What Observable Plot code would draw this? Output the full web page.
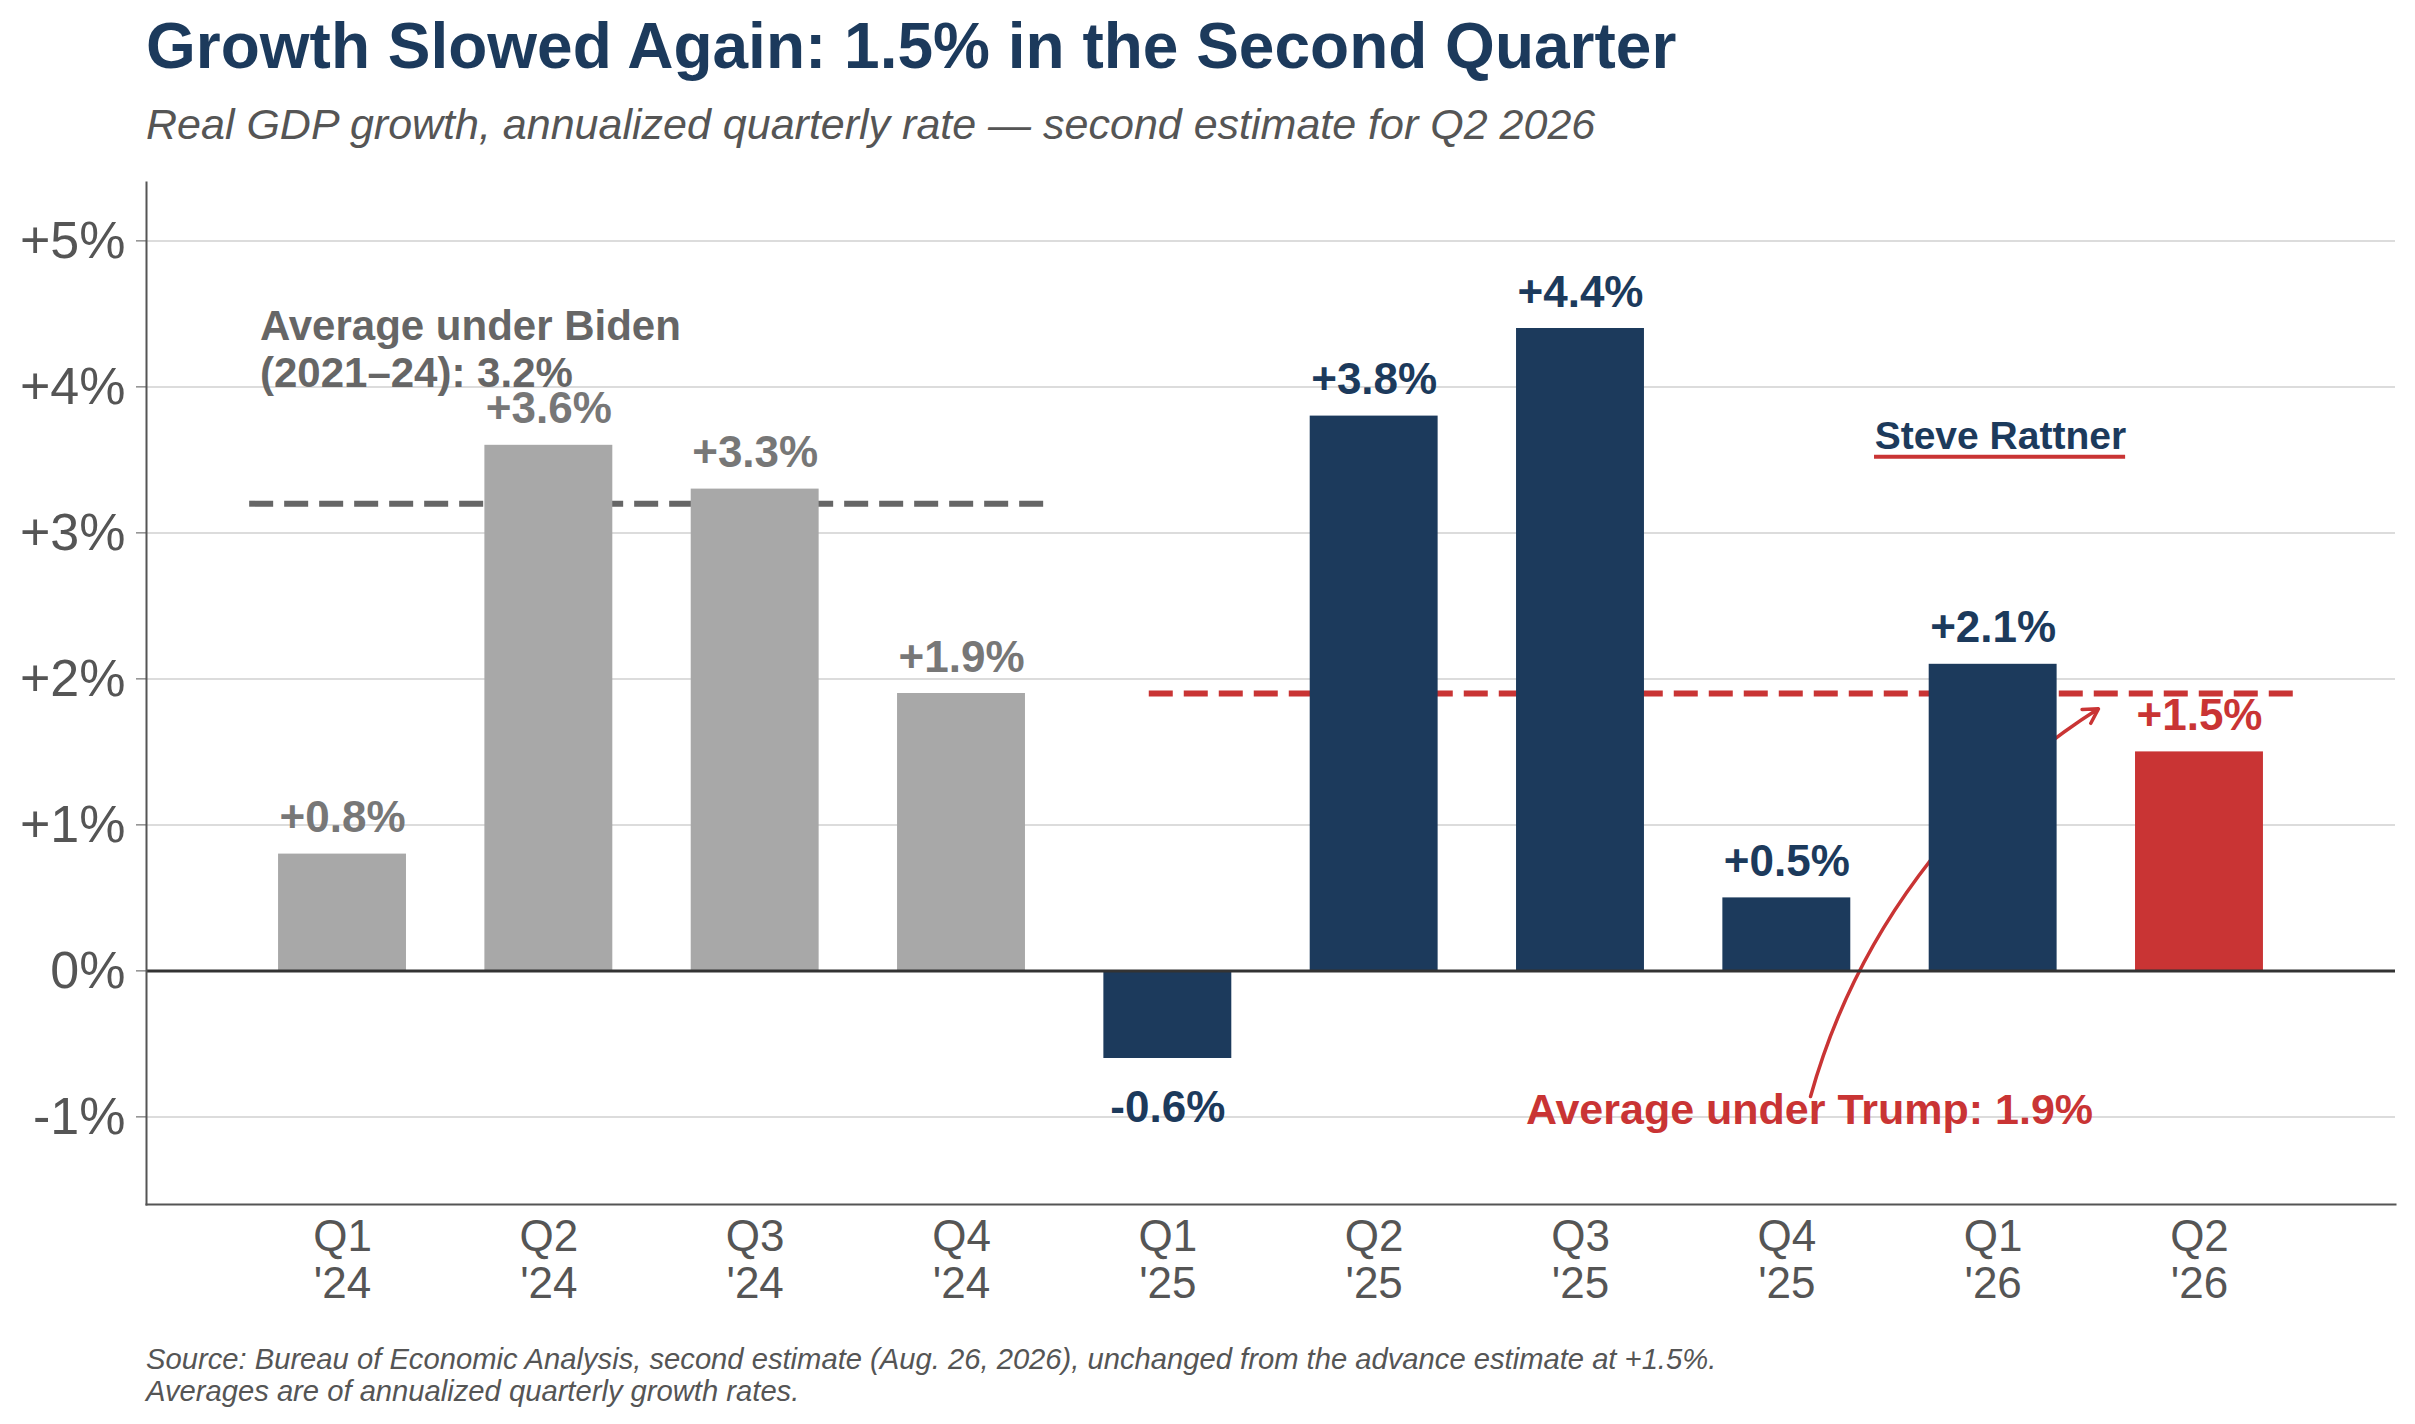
<!DOCTYPE html>
<html>
<head>
<meta charset="utf-8">
<script src="https://cdn.jsdelivr.net/npm/d3@7"></script>
<script src="https://cdn.jsdelivr.net/npm/@observablehq/plot@0.6"></script>
<style>
  html, body { margin: 0; padding: 0; background: #fff; }
  #wrap { position: relative; width: 2415px; height: 1424px; overflow: hidden; font-family: "Liberation Sans", Arial, sans-serif; }
  .title { position: absolute; left: 146px; top: 14px; font-size: 64px; line-height: 64px; font-weight: bold; color: #1c3a5c; white-space: nowrap; }
  .subtitle { position: absolute; left: 146px; top: 103px; font-size: 43px; line-height: 43px; font-style: italic; color: #555; white-space: nowrap; }
  #chart { position: absolute; left: 0; top: 160px; }
  .caption { position: absolute; left: 146px; top: 1343px; font-size: 29.2px; line-height: 32px; font-style: italic; color: #555; white-space: nowrap; }
</style>
</head>
<body>
<div id="wrap">
  <div class="title">Growth Slowed Again: 1.5% in the Second Quarter</div>
  <div class="subtitle">Real GDP growth, annualized quarterly rate — second estimate for Q2 2026</div>
  <div id="chart"></div>
  <div class="caption">Source: Bureau of Economic Analysis, second estimate (Aug. 26, 2026), unchanged from the advance estimate at +1.5%.<br>Averages are of annualized quarterly growth rates.</div>
</div>
<script>
// ---- data ----
const quarters = ["Q1\n'24", "Q2\n'24", "Q3\n'24", "Q4\n'24", "Q1\n'25", "Q2\n'25", "Q3\n'25", "Q4\n'25", "Q1\n'26", "Q2\n'26"];
const growth = [0.8, 3.6, 3.3, 1.9, -0.6, 3.8, 4.4, 0.5, 2.1, 1.5];
const period = ["Biden", "Biden", "Biden", "Biden", "Trump", "Trump", "Trump", "Trump", "Trump", "Latest"];
const yTicks = [-1, 0, 1, 2, 3, 4, 5];
const averageNames = ["Biden", "Trump"];
const averageValues = [3.2, 1.9];
const averageSpans = [[-0.45, 3.45], [3.91, 9.46]];

// ---- styles ----
const barColor = {Biden: "#a8a8a8", Trump: "#1c3a5c", Latest: "#c93434"};
const labelColor = {Biden: "#777777", Trump: "#1c3a5c", Latest: "#c93434"};
const avgColor = {Biden: "#666666", Trump: "#c93434"};
const RED = "#c93434";
const NAVY = "#1c3a5c";

const data = quarters.map((q, i) => ({i, q, value: growth[i], period: period[i]}));
const averages = averageNames.map((name, k) => ({name, value: averageValues[k], from: averageSpans[k][0], to: averageSpans[k][1]}));

// annotation anchors (data coordinates)
const bidenNote = [{x: -0.40, y: 4.55, text: "Average under Biden\n(2021–24): 3.2%"}];
const trumpNote = [{x: 7.11, y: -1.05, text: "Average under Trump: 1.9%"}];
const trumpArrow = [{x1: 7.115, y1: -0.86, x2: 8.51, y2: 1.795}];
const signature = [{x: 8.035, y: 3.575, text: "Steve Rattner", u1: 7.425, u2: 8.642, uy: 3.522}];

const fmt = v => (v > 0 ? "+" : "") + v.toFixed(1) + "%";
const tickFmt = d => d === 0 ? "0%" : (d > 0 ? "+" : "") + d + "%";

const chart = Plot.plot({
  width: 2415,
  height: 1160,
  marginTop: 22,
  marginBottom: 116,
  marginLeft: 146,
  marginRight: 20,
  style: {fontFamily: "Liberation Sans, Arial, sans-serif", background: "#fff", overflow: "visible"},
  x: {type: "linear", domain: [-0.95, 9.95]},
  y: {domain: [-1.6, 5.4]},
  marks: [
    Plot.ruleY(yTicks, {stroke: "#dcdcdc", strokeWidth: 2}),
    Plot.ruleY(averages, {y: "value", x1: "from", x2: "to", stroke: d => avgColor[d.name], strokeWidth: 6, strokeDasharray: "24,11"}),
    Plot.arrow(trumpArrow, {x1: "x1", y1: "y1", x2: "x2", y2: "y2", bend: 21, stroke: RED, strokeWidth: 3.5, headLength: 7}),
    Plot.rectY(data, {x1: d => d.i - 0.31, x2: d => d.i + 0.31, y1: 0, y2: "value", fill: d => barColor[d.period]}),
    Plot.ruleY([0], {stroke: "#333", strokeWidth: 3}),
    Plot.frame({anchor: "left", stroke: "#555", strokeWidth: 2}),
    Plot.frame({anchor: "bottom", stroke: "#555", strokeWidth: 2}),
    Plot.text(data.filter(d => d.value >= 0), {x: "i", y: "value", text: d => fmt(d.value), lineAnchor: "bottom", dy: -22, fontSize: 44, fontWeight: "bold", fill: d => labelColor[d.period]}),
    Plot.text(data.filter(d => d.value < 0), {x: "i", y: "value", text: d => fmt(d.value), lineAnchor: "top", dy: 32, fontSize: 44, fontWeight: "bold", fill: d => labelColor[d.period]}),
    Plot.text(bidenNote, {x: "x", y: "y", text: "text", textAnchor: "start", lineAnchor: "top", lineHeight: 1.12, fontSize: 42, fontWeight: "bold", fill: avgColor.Biden}),
    Plot.text(trumpNote, {x: "x", y: "y", text: "text", textAnchor: "middle", lineAnchor: "bottom", fontSize: 43, fontWeight: "bold", fill: RED}),
    Plot.ruleY(signature, {y: "uy", x1: "u1", x2: "u2", stroke: RED, strokeWidth: 4}),
    Plot.text(signature, {x: "x", y: "y", text: "text", textAnchor: "middle", lineAnchor: "bottom", fontSize: 39, fontWeight: "bold", fill: NAVY}),
    Plot.axisY({ticks: yTicks, tickFormat: tickFmt, tickSize: 10, tickPadding: 11, fontSize: 52, color: "#555", label: null}),
    Plot.axisX({ticks: data.map(d => d.i), tickFormat: i => quarters[i], tickSize: 0, tickPadding: 13, fontSize: 44, lineHeight: 1.07, color: "#555", label: null})
  ]
});
document.getElementById("chart").appendChild(chart);
</script>
</body>
</html>
